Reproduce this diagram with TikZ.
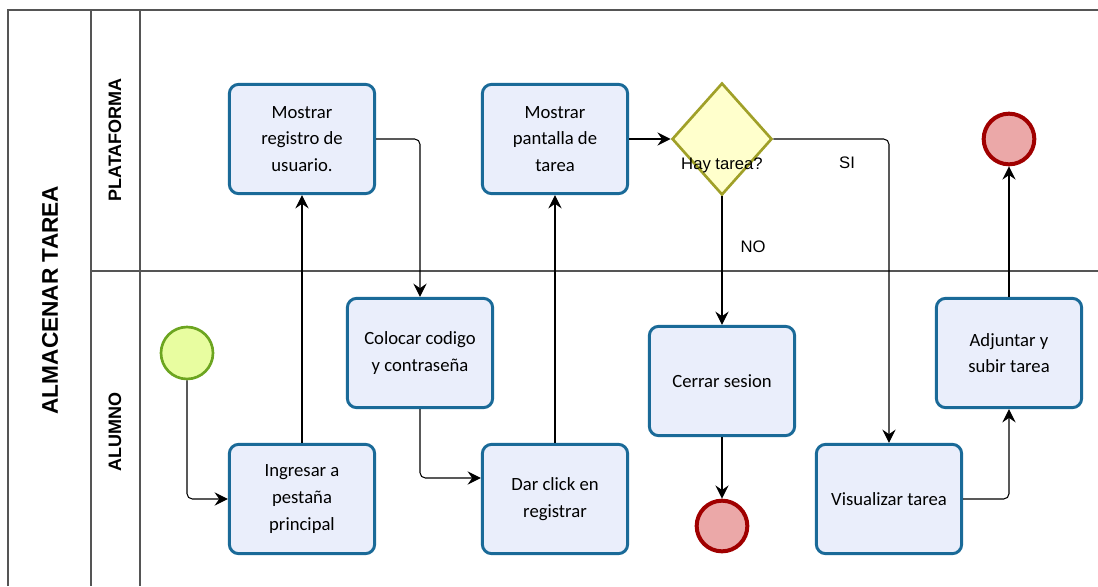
\documentclass[tikz,border=0pt]{standalone}
\usepackage{fontspec}
\setmainfont{Carlito}
\newfontfamily\lanefont{Liberation Sans}
\usetikzlibrary{shapes.geometric,arrows.meta}
\definecolor{taskline}{HTML}{1A6A98}
\definecolor{taskfill}{HTML}{EAEEFB}
\definecolor{startline}{HTML}{6CA520}
\definecolor{startfill}{HTML}{E8FDA0}
\definecolor{endline}{HTML}{A00000}
\definecolor{endfill}{HTML}{EBA8A8}
\definecolor{gateline}{HTML}{A0A028}
\definecolor{gatefill}{HTML}{FFFFCC}
\definecolor{poolline}{HTML}{555555}

\begin{document}
\begin{tikzpicture}[x=0.75pt,y=-0.75pt]
\tikzstyle{task}=[draw=taskline,fill=taskfill,line width=2.2pt,rounded corners=7pt,minimum width=109pt,minimum height=82pt,inner sep=0pt,align=center,font=\fontsize{14}{20}\selectfont]
\tikzstyle{startev}=[circle,draw=startline,fill=startfill,line width=2pt,minimum size=39pt,inner sep=0pt]
\tikzstyle{endev}=[circle,draw=endline,fill=endfill,line width=3pt,minimum size=38pt,inner sep=0pt]
\tikzstyle{gate}=[diamond,draw=gateline,fill=gatefill,line width=2pt,minimum width=75pt,minimum height=84pt,inner sep=0pt]
\tikzstyle{flow}=[draw=black,line width=0.8pt,rounded corners=4pt,-{Stealth[length=10pt,width=10pt,inset=3.5pt]}]
\tikzstyle{pool}=[draw=poolline,line width=1.1pt]
\tikzstyle{lanetext}=[font=\lanefont\bfseries\fontsize{13.5}{16}\selectfont,rotate=90]
\tikzstyle{flowtext}=[font=\lanefont\fontsize{12.5}{14}\selectfont]
\useasboundingbox (0,0) rectangle (1098,586);
\draw [pool] (8,586) -- (8,10) -- (1098,10);
\draw [pool] (91,10) -- (91,586);
\draw [pool] (140,10) -- (140,586);
\draw [pool] (91,271) -- (1098,271);
\node (pooltitle) [lanetext,font=\lanefont\bfseries\fontsize{17}{20}\selectfont] at (50,300) {ALMACENAR TAREA};
\node (laneplat) [lanetext] at (115,140) {PLATAFORMA};
\node (lanealum) [lanetext] at (115,432) {ALUMNO};
\node (inicio) [startev] at (187,353) {};
\node (ingresar) [task] at (302,499) {Ingresar a\\pestaña\\principal};
\node (mostrarreg) [task] at (302,139) {Mostrar\\registro de\\usuario.};
\node (colocar) [task] at (420,353) {Colocar codigo\\y contraseña};
\node (darclick) [task] at (555,499) {Dar click en\\registrar};
\node (mostrarpan) [task] at (555,139) {Mostrar\\pantalla de\\tarea};
\node (haytarea) [gate] at (722,139) {};
\node (haytext) [flowtext] at (722,165) {Hay tarea?};
\node (cerrar) [task] at (722,381) {Cerrar sesion};
\node (fin1) [endev] at (722,526) {};
\node (visualizar) [task] at (889,499) {Visualizar tarea};
\node (adjuntar) [task] at (1009,353) {Adjuntar y\\subir tarea};
\node (fin2) [endev] at (1009,139) {};
\node (sitext) [flowtext] at (847,163) {SI};
\node (notext) [flowtext] at (753,247) {NO};
\draw [flow] (inicio.south) |- (ingresar.west);
\draw [flow] (ingresar.north) -- (mostrarreg.south);
\draw [flow] (mostrarreg.east) -| (colocar.north);
\draw [flow] (colocar.south) |- ([yshift=15.75pt]darclick.west);
\draw [flow] (darclick.north) -- (mostrarpan.south);
\draw [flow] (mostrarpan.east) -- (haytarea.west);
\draw [flow] (haytarea.south) -- (cerrar.north);
\draw [flow] (haytarea.east) -| (visualizar.north);
\draw [flow] (cerrar.south) -- (fin1.north);
\draw [flow] (visualizar.east) -| (adjuntar.south);
\draw [flow] (adjuntar.north) -- (fin2.south);
\end{tikzpicture}
\end{document}
